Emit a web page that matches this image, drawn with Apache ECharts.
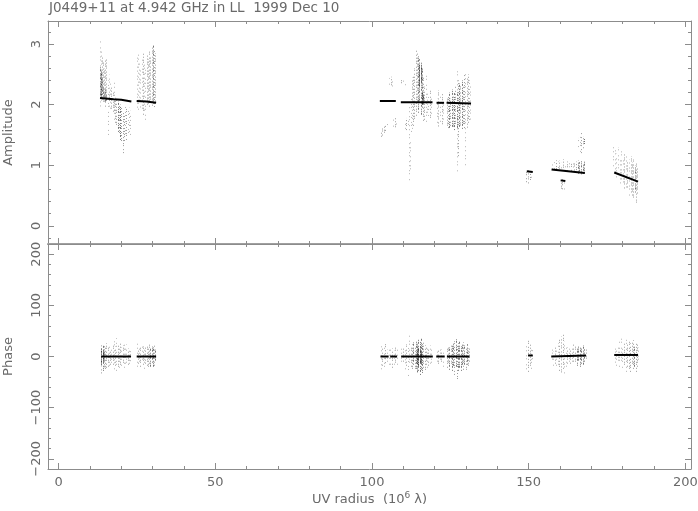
<!DOCTYPE html>
<html>
<head>
<meta charset="utf-8">
<script src="https://cdn.jsdelivr.net/npm/echarts@6/dist/echarts.min.js"></script>
<style>html,body{margin:0;padding:0;background:#fff}#c{width:698px;height:511px}</style>
</head>
<body>
<div id="c"></div>
<script>
// ---- tick labels ----
const xMajor = [0, 50, 100, 150, 200];
const xMinor = [10, 20, 30, 40, 60, 70, 80, 90, 110, 120, 130, 140, 160, 170, 180, 190];
const ampMajor = [0, 1, 2, 3];
const ampMinor = [-0.2, 0.2, 0.4, 0.6, 0.8, 1.2, 1.4, 1.6, 1.8, 2.2, 2.4, 2.6, 2.8, 3.2];
const phaseMajor = [-200, -100, 0, 100, 200];
const phaseMinor = [-180, -160, -140, -120, -80, -60, -40, -20, 20, 40, 60, 80, 120, 140, 160, 180];

// ---- amplitude scatter streaks: [uv radius, low, high, density] ----
const ampStreaksA = [
  [13.2, 1.97, 3.05, 1], [13.2, 2.12, 2.62, 3], [13.5, 2.0, 2.95, 1], [13.5, 2.1, 2.55, 4],
  [13.8, 2.05, 2.8, 2], [13.8, 2.15, 2.45, 3], [14.1, 2.0, 2.7, 2], [14.1, 2.1, 2.3, 3],
  [14.4, 2.05, 2.6, 2], [14.4, 2.1, 2.2, 3], [14.8, 1.95, 2.75, 2], [14.8, 2.05, 2.25, 3],
  [15.2, 2.1, 2.75, 2], [15.2, 2.05, 2.2, 3], [15.6, 1.5, 2.4, 1], [16.0, 1.95, 2.5, 1],
  [16.0, 2.05, 2.2, 2], [16.4, 1.9, 2.35, 1], [16.8, 1.9, 2.3, 2], [17.2, 1.85, 2.2, 2],
  [17.6, 1.75, 2.4, 1], [17.6, 1.9, 2.1, 2], [18.0, 1.7, 2.15, 2], [18.4, 1.65, 2.1, 2],
  [18.8, 1.55, 2.05, 3], [19.2, 1.5, 2.0, 2], [19.6, 1.4, 2.0, 3], [20.0, 1.35, 1.95, 2],
  [20.4, 1.2, 1.9, 2], [20.8, 1.4, 1.85, 2], [21.2, 1.45, 2.0, 1], [21.6, 1.4, 1.95, 2],
  [22.0, 1.45, 1.9, 1], [22.4, 1.5, 1.95, 1], [22.8, 1.5, 1.9, 1]
];
const ampStreaksB = [
  [24.9, 1.95, 2.8, 1], [25.3, 1.9, 2.9, 1], [25.7, 2.0, 2.7, 1], [26.1, 1.92, 2.6, 1],
  [26.5, 1.85, 2.75, 1], [26.9, 1.8, 2.85, 2], [27.3, 1.9, 2.7, 1], [27.7, 1.75, 2.6, 1],
  [28.1, 2.0, 2.85, 2], [28.5, 2.0, 2.75, 2], [28.9, 1.95, 2.9, 2], [29.3, 2.05, 2.8, 2],
  [29.7, 1.95, 2.95, 2], [30.1, 2.0, 2.98, 3], [30.5, 1.96, 2.9, 2], [30.9, 2.05, 2.85, 2]
];
const ampStreaksM = [
  [102.8, 1.47, 1.58, 2], [103.3, 1.49, 1.61, 2], [103.8, 1.52, 1.64, 2], [104.3, 1.55, 1.66, 2], [104.8, 1.58, 1.68, 1],
  [105.5, 2.28, 2.44, 1], [106.0, 2.27, 2.46, 2], [106.5, 2.3, 2.45, 1],
  [106.8, 1.62, 1.78, 1], [107.3, 1.61, 1.8, 2], [107.8, 1.64, 1.76, 1],
  [109.4, 2.32, 2.42, 2], [109.9, 2.33, 2.43, 1], [110.4, 2.32, 2.4, 1],
  [110.5, 1.6, 1.76, 1], [111.0, 1.58, 1.78, 2], [111.5, 1.6, 1.74, 1],
  [111.8, 0.72, 2.02, 1], [112.2, 0.85, 1.4, 1], [112.4, 1.5, 2.1, 1],
  [112.7, 2.0, 2.45, 2], [112.7, 1.6, 2.0, 1], [113.1, 1.65, 2.5, 2], [113.5, 1.75, 2.6, 2],
  [113.9, 1.8, 2.9, 2], [114.3, 2.0, 2.85, 2], [114.7, 1.85, 2.8, 3], [115.1, 2.05, 2.75, 3],
  [115.1, 2.3, 2.65, 4], [115.5, 1.8, 2.7, 3], [115.5, 2.35, 2.62, 4], [115.9, 1.95, 2.6, 3],
  [115.9, 2.0, 2.2, 4], [116.3, 1.7, 2.45, 2], [116.3, 2.0, 2.18, 4], [116.7, 1.75, 2.3, 2],
  [117.1, 1.7, 2.5, 1], [117.5, 1.8, 2.2, 1],
  [117.9, 1.78, 2.2, 1], [118.4, 1.75, 2.24, 2], [118.9, 1.8, 2.1, 1],
  [120.7, 1.7, 2.1, 1], [121.2, 1.64, 2.24, 2], [121.7, 1.7, 2.15, 1], [122.2, 1.66, 2.2, 2], [122.7, 1.72, 2.05, 1],
  [123.8, 1.62, 2.1, 2], [124.2, 1.58, 2.15, 2], [124.6, 1.6, 2.2, 3], [125.0, 1.65, 2.1, 2],
  [125.4, 1.6, 2.25, 3], [125.8, 1.62, 2.16, 2], [126.2, 1.58, 2.2, 3], [126.6, 1.65, 2.3, 2],
  [127.0, 0.85, 2.58, 1], [127.0, 1.6, 2.2, 3], [127.4, 1.15, 2.4, 2], [127.8, 1.6, 2.35, 3],
  [128.2, 1.64, 2.3, 2], [128.6, 1.6, 2.4, 3], [129.0, 1.65, 2.3, 2], [129.4, 1.58, 2.5, 2],
  [129.8, 1.0, 2.55, 1], [130.2, 1.62, 2.45, 2], [130.6, 1.7, 2.5, 2], [131.0, 1.68, 2.4, 1], [131.4, 1.72, 2.3, 1]
];
const ampStreaksR = [
  [149.3, 0.72, 0.9, 2], [149.8, 0.7, 0.92, 2], [150.3, 0.74, 0.9, 2], [150.8, 0.76, 0.9, 1],
  [160.2, 0.58, 0.76, 2], [160.7, 0.57, 0.77, 2], [161.2, 0.6, 0.74, 1],
  [157.4, 0.93, 1.02, 1], [158.0, 0.92, 1.05, 1], [158.6, 0.92, 1.08, 2], [159.2, 0.92, 1.06, 1],
  [159.8, 0.91, 1.08, 2], [160.4, 0.9, 1.05, 1], [161.0, 0.91, 1.1, 2], [161.6, 0.9, 1.05, 1],
  [162.2, 0.9, 1.06, 2], [162.8, 0.9, 1.04, 1], [163.4, 0.89, 1.05, 2], [164.0, 0.88, 1.06, 1],
  [164.6, 0.88, 1.05, 2], [165.2, 0.87, 1.06, 2], [165.7, 0.86, 1.08, 3], [166.2, 0.86, 1.05, 3],
  [166.7, 0.85, 1.07, 3], [167.2, 0.86, 1.04, 3], [167.7, 0.86, 1.06, 3],
  [165.8, 1.25, 1.45, 1], [166.3, 1.22, 1.5, 1], [166.8, 1.2, 1.53, 2], [167.3, 1.28, 1.48, 2], [167.8, 1.35, 1.45, 3],
  [177.0, 0.95, 1.3, 1], [177.5, 0.8, 1.25, 1], [178.0, 0.75, 1.2, 1], [178.5, 0.85, 1.3, 1],
  [179.0, 0.7, 1.15, 1], [179.5, 0.75, 1.25, 1], [180.0, 0.65, 1.1, 1], [180.5, 0.6, 1.2, 2],
  [181.0, 0.55, 1.15, 1], [181.5, 0.6, 1.05, 2], [182.0, 0.5, 1.1, 1], [182.5, 0.55, 1.15, 2],
  [183.0, 0.5, 1.05, 2], [183.4, 0.45, 1.1, 2], [183.8, 0.55, 1.0, 3], [184.2, 0.35, 1.05, 2], [184.6, 0.5, 0.95, 2]
];

// ---- phase scatter streaks: [uv radius, low, high, density] ----
const phaseStreaksA = [
  [13.6, -33, 26, 2], [13.6, -16, 17, 4], [14.0, -28, 22, 3], [14.0, -12, 14, 4], [14.4, -25, 24, 2],
  [14.4, -10, 12, 3], [14.8, -30, 20, 2], [15.2, -22, 26, 2], [15.6, -20, 18, 2], [16.0, -26, 22, 1],
  [16.4, -18, 15, 2], [16.8, -22, 20, 1], [17.2, -20, 24, 2], [17.6, -25, 30, 1], [18.0, -18, 20, 2],
  [18.4, -30, 36, 1], [18.8, -22, 25, 2], [19.2, -26, 20, 1], [19.6, -20, 28, 2], [20.0, -24, 18, 1],
  [20.4, -18, 22, 2], [20.8, -22, 30, 1], [21.2, -16, 18, 1], [21.6, -20, 24, 1], [22.0, -18, 16, 2],
  [22.4, -24, 20, 1], [22.8, -15, 18, 1]
];
const phaseStreaksB = [
  [24.9, -20, 26, 1], [25.3, -14, 16, 2], [25.7, -18, 22, 1], [26.1, -22, 18, 2], [26.5, -16, 24, 1],
  [26.9, -20, 20, 2], [27.3, -24, 16, 1], [27.7, -14, 20, 2], [28.1, -18, 22, 2], [28.5, -22, 18, 2],
  [28.9, -16, 24, 2], [29.3, -20, 16, 3], [29.7, -14, 20, 3], [30.1, -22, 18, 3], [30.5, -18, 22, 2], [30.9, -12, 14, 3]
];
const phaseStreaksM = [
  [102.8, -25, 22, 1], [103.3, -18, 16, 2], [103.8, -28, 20, 1], [104.3, -15, 24, 2], [104.8, -20, 14, 1], [105.3, -22, 18, 1],
  [105.9, -16, 14, 1], [106.4, -22, 16, 2], [106.9, -18, 12, 1], [107.4, -14, 18, 2], [107.9, -20, 14, 1],
  [109.4, -20, 16, 1], [109.9, -14, 20, 2], [110.4, -25, 14, 1], [110.9, -18, 24, 2], [111.4, -40, 18, 1],
  [111.9, -20, 42, 1], [112.4, -22, 20, 2], [112.8, -28, 24, 2], [113.2, -18, 28, 3], [113.6, -30, 22, 2],
  [114.0, -24, 30, 3], [114.4, -35, 26, 3], [114.4, -15, 14, 4], [114.8, -28, 34, 3], [114.8, -18, 16, 4],
  [115.2, -38, 30, 3], [115.2, -14, 18, 4], [115.6, -26, 36, 3], [115.6, -12, 12, 4], [116.0, -32, 24, 3],
  [116.4, -24, 28, 2], [116.8, -30, 22, 2], [117.2, -20, 18, 2], [117.6, -22, 20, 1], [118.0, -18, 16, 2],
  [118.4, -16, 22, 1], [118.8, -20, 14, 1],
  [120.6, -14, 16, 1], [121.1, -18, 12, 2], [121.6, -12, 18, 1], [122.1, -16, 14, 2], [122.6, -20, 10, 1],
  [123.9, -22, 16, 2], [124.3, -14, 20, 2], [124.7, -26, 18, 3], [125.1, -18, 24, 2], [125.5, -30, 22, 3],
  [125.9, -20, 28, 3], [126.3, -36, 30, 2], [126.7, -24, 34, 3], [127.1, -46, 22, 2], [127.5, -28, 26, 3],
  [127.9, -22, 30, 3], [128.3, -30, 20, 3], [128.7, -18, 24, 3], [129.1, -26, 28, 2], [129.5, -20, 22, 3],
  [129.9, -28, 18, 2], [130.3, -16, 24, 3], [130.7, -22, 16, 2], [131.1, -14, 18, 2]
];
const phaseStreaksR = [
  [149.3, -25, 28, 1], [149.8, -30, 32, 2], [150.3, -20, 24, 2], [150.8, -28, 20, 1], [151.2, -15, 18, 1],
  [157.3, -12, 14, 1], [157.8, -18, 10, 1], [158.3, -14, 22, 2], [158.8, -20, 16, 1], [159.3, -24, 26, 1],
  [159.8, -30, 35, 2], [160.3, -35, 40, 2], [160.8, -28, 43, 2], [161.3, -33, 30, 1], [161.8, -20, 22, 1],
  [162.3, -14, 18, 2], [162.8, -18, 20, 1], [163.3, -16, 14, 2], [163.8, -20, 18, 1], [164.3, -14, 24, 2],
  [164.8, -16, 20, 2], [165.3, -18, 16, 3], [165.8, -12, 20, 3], [166.3, -20, 18, 3], [166.8, -14, 16, 3],
  [167.3, -16, 22, 3], [167.8, -12, 14, 3], [168.2, -10, 18, 2],
  [177.4, -12, 18, 1], [177.9, -20, 14, 1], [178.4, -16, 24, 1], [178.9, -24, 30, 1], [179.4, -18, 36, 1],
  [179.9, -28, 22, 1], [180.4, -22, 28, 2], [180.9, -30, 34, 1], [181.4, -20, 24, 2], [181.9, -26, 30, 2],
  [182.4, -32, 26, 2], [182.9, -18, 28, 2], [183.3, -28, 32, 2], [183.7, -22, 20, 3], [184.1, -30, 26, 2],
  [184.5, -20, 24, 2], [184.9, -14, 18, 1]
];

// ---- model curves: segments of [uv radius, value] ----
const ampModel = [
  [[13.2, 2.11], [17.5, 2.09], [20.0, 2.08], [23.2, 2.05]],
  [[24.9, 2.06], [28.0, 2.05], [31.1, 2.03]],
  [[102.5, 2.06], [107.6, 2.06]],
  [[109.2, 2.04], [119.3, 2.04]],
  [[120.6, 2.03], [123.0, 2.03]],
  [[123.8, 2.03], [131.6, 2.02]],
  [[149.4, 0.90], [151.3, 0.89]],
  [[160.2, 0.75], [161.7, 0.74]],
  [[157.3, 0.93], [167.9, 0.87]],
  [[177.3, 0.88], [184.9, 0.73]]
];
const phaseModel = [
  [[13.6, 0], [23.1, 0]],
  [[24.9, 0], [31.1, 0]],
  [[102.7, 0], [105.3, 0]],
  [[105.8, 0], [108.0, 0]],
  [[109.3, 0], [119.4, 0]],
  [[120.5, 0], [123.2, 0]],
  [[123.9, 0], [131.1, 0]],
  [[149.8, 2], [151.3, 2]],
  [[157.2, 0], [168.3, 2]],
  [[177.3, 3], [184.9, 3]]
];

const X_MIN = -3.4, X_MAX = 201.8;
const A_MIN = -0.3, A_MAX = 3.38;
const P_MIN = -220, P_MAX = 220;
const AX = '#8c8c8c', TXT = '#6a6a6a', FONT = 'DejaVu Sans';

function mkX(gridIndex, position, ticks, len, showLine, labels, extra) {
  return Object.assign({
    type: 'value', gridIndex, position, min: X_MIN, max: X_MAX,
    axisLine: { show: showLine, onZero: false, lineStyle: { color: AX, width: 1 } },
    axisTick: { show: true, inside: true, length: len, customValues: ticks, lineStyle: { color: AX } },
    axisLabel: labels ? { show: true, customValues: ticks, margin: 7, color: TXT, fontSize: 13, fontFamily: FONT } : { show: false },
    splitLine: { show: false }
  }, extra || {});
}
function mkY(gridIndex, position, min, max, ticks, len, showLine, labels, extra) {
  return Object.assign({
    type: 'value', gridIndex, position, min, max,
    axisLine: { show: showLine, onZero: false, lineStyle: { color: AX, width: 1 } },
    axisTick: { show: true, inside: true, length: len, customValues: ticks, lineStyle: { color: AX } },
    axisLabel: labels ? { show: true, customValues: ticks, rotate: 90, margin: 5, color: TXT, fontSize: 13, fontFamily: FONT,
      formatter: v => (v < 0 ? '\u2212' + Math.abs(v) : String(v)) } : { show: false },
    splitLine: { show: false }
  }, extra || {});
}

const xAxis = [
  mkX(0, 'bottom', xMajor, 6, true, false, { axisLine: { show: true, onZero: false, lineStyle: { color: '#a0a0a0', width: 2 } } }),
  mkX(0, 'bottom', xMinor, 3, false, false),
  mkX(0, 'top', xMajor, 6, true, false),
  mkX(0, 'top', xMinor, 3, false, false),
  mkX(1, 'bottom', xMajor, 6, true, true, {
    name: '{a|UV radius  (10}{s|6}{a| \u03bb)}', nameLocation: 'middle', nameGap: 22,
    nameTextStyle: { rich: { a: { fontSize: 13, color: TXT, fontFamily: FONT }, s: { fontSize: 9, color: TXT, fontFamily: FONT, verticalAlign: 'top', padding: [0, 0, 8, 0] } } }
  }),
  mkX(1, 'bottom', xMinor, 3, false, false),
  mkX(1, 'top', xMajor, 6, true, false),
  mkX(1, 'top', xMinor, 3, false, false)
];
const yAxis = [
  mkY(0, 'left', A_MIN, A_MAX, ampMajor, 6, true, true, {
    name: 'Amplitude', nameLocation: 'middle', nameGap: 33, nameTextStyle: { fontSize: 13, color: TXT, fontFamily: FONT } }),
  mkY(0, 'left', A_MIN, A_MAX, ampMinor, 3, false, false),
  mkY(0, 'right', A_MIN, A_MAX, ampMajor, 6, true, false),
  mkY(0, 'right', A_MIN, A_MAX, ampMinor, 3, false, false),
  mkY(1, 'left', P_MIN, P_MAX, phaseMajor, 6, true, true, {
    name: 'Phase', nameLocation: 'middle', nameGap: 33, nameTextStyle: { fontSize: 13, color: TXT, fontFamily: FONT } }),
  mkY(1, 'left', P_MIN, P_MAX, phaseMinor, 3, false, false),
  mkY(1, 'right', P_MIN, P_MAX, phaseMajor, 6, true, false),
  mkY(1, 'right', P_MIN, P_MAX, phaseMinor, 3, false, false)
];

// dotted textures for the point clouds (style only)
const DENS = {
  1: { stroke: '#b4b4b4', dash: [1, 3, 1, 5, 1, 2, 1, 4] },
  2: { stroke: '#9c9c9c', dash: [1, 2, 1, 3, 1, 1, 1, 2] },
  3: { stroke: '#767676', dash: [1, 1, 1, 2, 2, 1] },
  4: { stroke: '#444444', dash: [2, 1, 1, 1] }
};
function streakSeries(data, gi) {
  return {
    type: 'custom', xAxisIndex: gi * 4, yAxisIndex: gi * 4, clip: true, z: 2,
    data,
    renderItem: (params, api) => {
      const x = api.value(0), lo = api.value(1), hi = api.value(2), d = api.value(3);
      const p1 = api.coord([x, lo]), p2 = api.coord([x, hi]);
      const px = Math.round(p1[0]) + 0.5;
      const st = DENS[d] || DENS[1];
      return { type: 'line', shape: { x1: px, y1: p1[1], x2: px, y2: p2[1] },
        style: { stroke: st.stroke, lineWidth: 1, lineDash: st.dash, lineDashOffset: (params.dataIndex * 3) % 7 } };
    }
  };
}
function modelSeries(segs, gi) {
  return segs.map(seg => ({
    type: 'line', xAxisIndex: gi * 4, yAxisIndex: gi * 4, data: seg, symbol: 'none', z: 5,
    lineStyle: { color: '#000', width: 2 }, silent: true, animation: false
  }));
}

const series = [
  streakSeries(ampStreaksA, 0), streakSeries(ampStreaksB, 0), streakSeries(ampStreaksM, 0), streakSeries(ampStreaksR, 0),
  streakSeries(phaseStreaksA, 1), streakSeries(phaseStreaksB, 1), streakSeries(phaseStreaksM, 1), streakSeries(phaseStreaksR, 1),
  ...modelSeries(ampModel, 0), ...modelSeries(phaseModel, 1)
];

const chart = echarts.init(document.getElementById('c'), null, { renderer: 'canvas' });
chart.setOption({
  animation: false,
  backgroundColor: '#fff',
  title: { text: 'J0449+11 at 4.942 GHz in LL  1999 Dec 10', left: 44, top: -4,
    textStyle: { fontSize: 13.5, fontWeight: 'normal', color: TXT, fontFamily: FONT } },
  grid: [
    { left: 48, top: 21, width: 643, height: 223, outerBoundsMode: 'none', containLabel: false },
    { left: 48, top: 244, width: 643, height: 225, outerBoundsMode: 'none', containLabel: false }
  ],
  xAxis, yAxis, series
});
</script>
</body>
</html>
